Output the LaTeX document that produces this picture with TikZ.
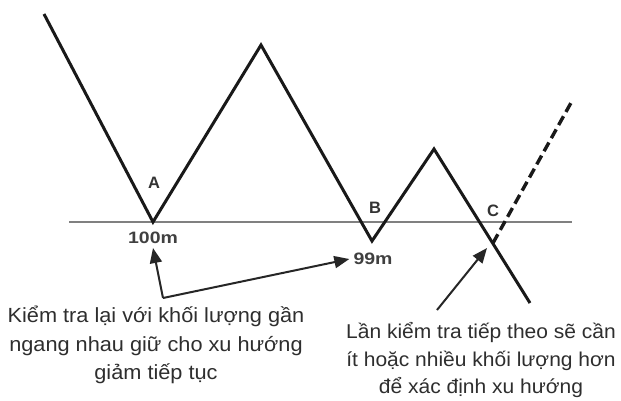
\documentclass[tikz,border=0pt]{standalone}
\usepackage{fontspec}
\usepackage{graphicx}
\setmainfont{Liberation Sans}
\usetikzlibrary{arrows.meta}
\newcommand\wideln[2][1.06]{\scalebox{#1}[1]{#2}}
\begin{document}
\begin{tikzpicture}[x=1pt,y=-1pt,
  price/.style={line width=3pt, draw=black!90, line join=miter, line cap=butt},
  level/.style={line width=2.4pt, draw=black!50},
  future/.style={line width=3.4pt, draw=black!90, dash pattern=on 10pt off 5pt},
  callout/.style={line width=2pt, draw=black!85, -{Triangle[length=15pt,width=12pt]}},
  pointlbl/.style={font=\bfseries\fontsize{16.5}{17}\selectfont, text=black!80, inner sep=0pt},
  vollbl/.style={font=\bfseries\fontsize{16.5}{17}\selectfont, text=black!75, inner sep=4pt},
  note/.style={align=center, text=black!82, inner sep=0pt}]
\useasboundingbox[fill=white] (0,0) rectangle (621,400);
% price path points
\coordinate (S) at (44,14);
\coordinate (A) at (153,222);
\coordinate (P1) at (261,45);
\coordinate (B) at (372,241);
\coordinate (P2) at (434,149);
\coordinate (E) at (530,303);
\coordinate (X) at (493,243);
\coordinate (D) at (572,101);
\coordinate (L1) at (69,222);
\coordinate (L2) at (572,222);
% level line
\draw[level] (L1) -- (L2);
% price
\draw[price] (S) -- (A) -- (P1) -- (B) -- (P2) -- (E);
\draw[future] (X) -- (D);
% labels
\node[pointlbl] (la) at (154,183) {A};
\node[pointlbl] (lb) at (375,208) {B};
\node[pointlbl] (lc) at (493,211) {C};
\node[vollbl] (v100) at (153,238) {\wideln[1.18]{100m}};
\node[vollbl] (v99) at (373,259) {\wideln[1.18]{99m}};
% notes
\node[note, font=\fontsize{20.5}{28.5}\selectfont] (n1) at (156,345)
  {\wideln{Kiểm tra lại với khối lượng gần}\\
   \wideln{ngang nhau giữ cho xu hướng}\\
   \wideln{giảm tiếp tục}};
\node[note, font=\fontsize{20}{27.5}\selectfont] (n2) at (481,360)
  {\wideln[1.05]{Lần kiểm tra tiếp theo sẽ cần}\\
   \wideln[1.05]{ít hoặc nhiều khối lượng hơn}\\
   \wideln[1.05]{để xác định xu hướng}};
% callouts
\coordinate (K) at (163,298);
\coordinate (R0) at (437,310);
\coordinate (R1) at (487,248);
\draw[callout] (K) -- (v100.south);
\draw[callout] (K) -- (v99.west);
\draw[callout] (R0) -- (R1);
\end{tikzpicture}
\end{document}
